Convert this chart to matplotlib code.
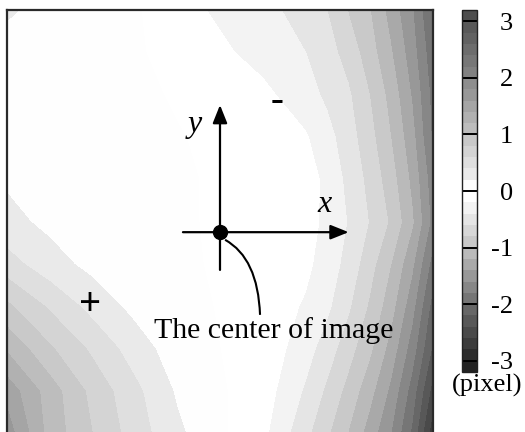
import numpy as np
import matplotlib.pyplot as plt
from matplotlib.colors import LinearSegmentedColormap
from matplotlib.path import Path
import matplotlib.patches as mpatches

plt.rcParams['font.family'] = ['Liberation Serif', 'DejaVu Serif']

# displacement (pixel) sampled over the image, top row first;
# columns are denser on the right where the field changes fast
cols = np.array([0, .1, .2, .3, .4, .5, .6, .7, .75, .8, .85, .9, .95, 1.0])
rows = np.linspace(0, 1, 11)
disp = np.array([
    [0.21, 0.17, 0.10, 0.02, -0.12, -0.24, -0.34, -0.48, -0.60, -0.81, -0.99, -1.28, -1.58, -2.05],
    [0.17, 0.13, 0.08, 0.02, -0.06, -0.16, -0.28, -0.40, -0.52, -0.68, -0.91, -1.18, -1.51, -1.95],
    [0.16, 0.12, 0.08, 0.04, -0.02, -0.09, -0.15, -0.32, -0.44, -0.57, -0.80, -1.07, -1.42, -1.88],
    [0.16, 0.13, 0.09, 0.05, 0.01, -0.04, -0.10, -0.18, -0.33, -0.51, -0.73, -1.00, -1.33, -1.85],
    [0.17, 0.14, 0.10, 0.06, 0.02, -0.02, -0.05, -0.09, -0.26, -0.45, -0.66, -0.91, -1.25, -1.73],
    [0.26, 0.15, 0.10, 0.06, 0.02, -0.02, -0.06, -0.10, -0.26, -0.41, -0.61, -0.83, -1.17, -1.68],
    [0.48, 0.28, 0.14, 0.08, 0.03, -0.02, -0.07, -0.155, -0.29, -0.47, -0.72, -1.00, -1.36, -1.90],
    [0.84, 0.57, 0.33, 0.14, 0.05, -0.01, -0.07, -0.225, -0.36, -0.57, -0.83, -1.12, -1.53, -2.10],
    [1.17, 0.83, 0.56, 0.30, 0.09, 0.00, -0.06, -0.32, -0.50, -0.72, -0.96, -1.28, -1.70, -2.25],
    [1.52, 1.10, 0.74, 0.45, 0.17, 0.02, -0.10, -0.43, -0.64, -0.87, -1.13, -1.45, -1.89, -2.50],
    [1.70, 1.12, 0.80, 0.50, 0.24, 0.03, -0.15, -0.55, -0.77, -1.01, -1.29, -1.60, -2.04, -2.75],
])

levels = np.round(np.linspace(-3.2, 3.2, 33), 2)
ticks = [3, 2, 1, 0, -1, -2, -3]
tick_labels = ['3', '2', '1', '0', '-1', '-2', '-3']

# gray scale: white around zero, darker for larger displacement
vmin, vmax = -3.2, 3.2
nodes = [(-3.2, 0.12), (-3.0, 0.15), (-2.0, 0.43), (-1.0, 0.76), (-0.3, 0.95),
         (-0.1, 1.0), (0.1, 1.0), (0.3, 0.92), (1.0, 0.77), (2.0, 0.53),
         (3.0, 0.33), (3.2, 0.29)]
cmap = LinearSegmentedColormap.from_list(
    'disp', [((v - vmin) / (vmax - vmin), (g, g, g)) for v, g in nodes])

fig = plt.figure(figsize=(5.25, 4.32), dpi=100)
ax = fig.add_axes([7/525, 1 - 434/432, 426/525, 424/432])
cax = fig.add_axes([462/525, 1 - 372/432, 15/525, 362/432])

X, Y = np.meshgrid(cols, rows)
cs = ax.contourf(X, Y, disp, levels=levels, cmap=cmap, vmin=vmin, vmax=vmax)
cs.set_edgecolor('face')
cs.set_linewidth(0.4)
ax.set_xlim(0, 1)
ax.set_ylim(1, 0)
ax.set_xticks([])
ax.set_yticks([])
for s in ax.spines.values():
    s.set_linewidth(1.6)
    s.set_color('#2a2a2a')

# coordinate axes at the image center
arrow = dict(arrowstyle='-|>,head_length=0.55,head_width=0.22', lw=1.6,
             color='k', shrinkA=0, shrinkB=0, mutation_scale=20)
ax.annotate('', xy=(0.5, 0.224), xytext=(0.5, 0.613), arrowprops=arrow)
ax.annotate('', xy=(0.802, 0.524), xytext=(0.413, 0.524), arrowprops=arrow)
ax.plot(0.5, 0.524, 'o', ms=10, color='k')
ax.text(0.746, 0.458, 'x', fontsize=23, style='italic', ha='center', va='center')
ax.text(0.441, 0.27, 'y', fontsize=23, style='italic', ha='center', va='center')

# leader line to the label
leader = Path([(0.512, 0.542), (0.589, 0.585), (0.594, 0.719)],
              [Path.MOVETO, Path.CURVE3, Path.CURVE3])
ax.add_patch(mpatches.PathPatch(leader, fc='none', ec='k', lw=1.5))
ax.text(0.627, 0.757, 'The center of image', fontsize=21.5,
        ha='center', va='center')

ax.text(0.195, 0.696, '+', fontsize=28, fontweight='bold', ha='center', va='center')
ax.text(0.634, 0.215, '-', fontsize=28, fontweight='bold', ha='center', va='center')

cbar = fig.colorbar(cs, cax=cax)
cbar.set_ticks(ticks)
cbar.set_ticklabels(tick_labels)
cax.tick_params(length=0, labelsize=19, pad=26)
for lab in cax.get_yticklabels():
    lab.set_horizontalalignment('right')
for t in ticks:
    cax.axhline(t, color='k', lw=1.4)
cbar.outline.set_linewidth(1.0)
cbar.outline.set_edgecolor('#222222')
fig.text(487/525, 1 - 385/432, '(pixel)', fontsize=19, ha='center', va='center')

fig.savefig('out.png', dpi=100)
